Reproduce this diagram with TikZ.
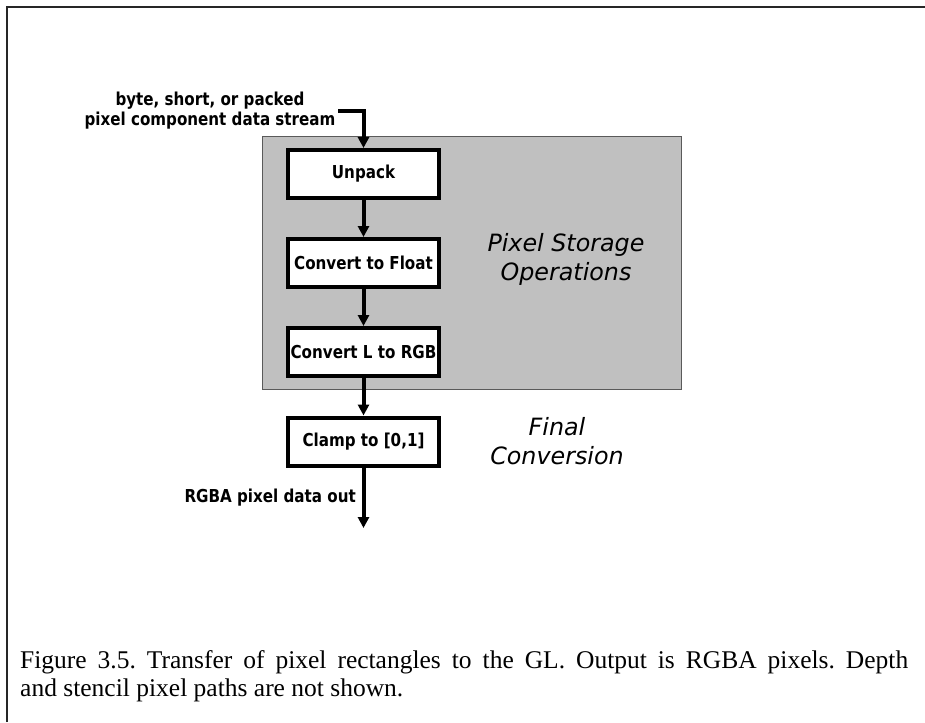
\documentclass[tikz,border=0pt]{standalone}
\usepackage{fontspec}
\setmainfont{Liberation Serif}
\newfontfamily\lblfont[FakeStretch=0.85]{DejaVu Sans}
\newfontfamily\itlfont{DejaVu Sans}
\usetikzlibrary{arrows.meta}
\definecolor{boxgray}{RGB}{192,192,192}
\definecolor{edgegray}{RGB}{90,90,90}
\begin{document}
\begin{tikzpicture}[x=1pt,y=-1pt,
  stepbox/.style={draw=black, line width=4pt, fill=white, minimum width=151pt,
    minimum height=48pt, inner sep=0pt, font=\lblfont\bfseries\fontsize{17.8}{20}\selectfont},
  flow/.style={line width=4pt, line join=miter, -{Triangle[length=11pt,width=11pt]}},
  lbl/.style={inner sep=0pt, font=\lblfont\bfseries\fontsize{17.8}{20}\selectfont},
  itlbl/.style={inner sep=0pt, align=center, font=\itlfont\itshape\fontsize{23.8}{29}\selectfont},
  captxt/.style={inner sep=0pt, anchor=base west, font=\fontsize{25.5}{28}\selectfont}]
\useasboundingbox (0,0) rectangle (925,722);
\draw[line width=2pt, color=black!85] (7,722) -- (7,7.5) -- (925,7.5);
\node[draw=edgegray, fill=boxgray, line width=1pt, minimum width=419pt, minimum height=253pt, inner sep=0pt] (storage) at (472,263) {};
\node[stepbox] (unpack) at (363.5,174) {Unpack};
\node[stepbox] (float) at (363.5,263) {Convert to Float};
\node[stepbox] (lrgb) at (363.5,352) {Convert L to RGB};
\node[stepbox] (clamp) at (363.5,441.5) {Clamp to [0,1]};
\node[lbl, align=center] (inlabel) at (210,111) {byte, short, or packed\\pixel component data stream};
\coordinate (inp) at (338,111);
\coordinate (outp) at (363.5,528);
\node[lbl, anchor=east] (outlabel) at (356,498) {RGBA pixel data out};
\node[itlbl] (psolabel) at (566,259) {Pixel Storage\\Operations};
\node[itlbl] (fclabel) at (557,441) {Final\\Conversion};
\draw[flow] (inp) -| (unpack.north);
\draw[flow] (unpack) -- (float);
\draw[flow] (float) -- (lrgb);
\draw[flow] (lrgb) -- (clamp);
\draw[flow] (clamp) -- (outp);
\node[captxt] (cap1) at (20,668) {\makebox[888pt][s]{Figure 3.5.\ Transfer of pixel rectangles to the GL. Output is RGBA pixels.\ Depth}};
\node[captxt] (cap2) at (20,696) {and stencil pixel paths are not shown.};
\end{tikzpicture}
\end{document}
